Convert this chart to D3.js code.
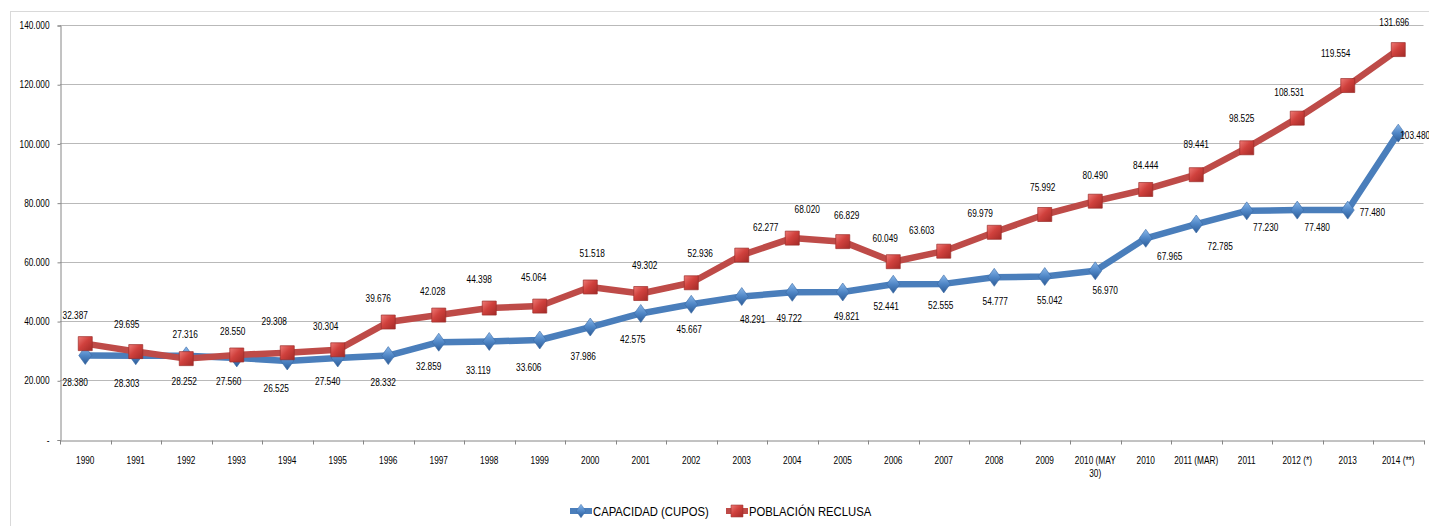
<!DOCTYPE html>
<html>
<head>
<meta charset="utf-8">
<script src="https://cdn.jsdelivr.net/npm/d3@7"></script>
<style>
  html, body { margin: 0; padding: 0; background: #ffffff; }
  svg { display: block; }
  text { font-family: "Liberation Sans Narrow", "Arial Narrow", "Liberation Sans", Arial, sans-serif; fill: #000; }
</style>
</head>
<body>
<svg id="chart" width="1429" height="526"></svg>
<script>
// ---------- data ----------
const categories = ["1990","1991","1992","1993","1994","1995","1996","1997","1998","1999",
  "2000","2001","2002","2003","2004","2005","2006","2007","2008","2009",
  "2010 (MAY 30)","2010","2011 (MAR)","2011","2012 (*)","2013","2014 (**)"];
const capacidad = [28380,28303,28252,27560,26525,27540,28332,32859,33119,33606,
  37986,42575,45667,48291,49722,49821,52441,52555,54777,55042,
  56970,67965,72785,77230,77480,77480,103480];
const poblacion = [32387,29695,27316,28550,29308,30304,39676,42028,44398,45064,
  51518,49302,52936,62277,68020,66829,60049,63603,69979,75992,
  80490,84444,89441,98525,108531,119554,131696];
const yTicks = [0,20000,40000,60000,80000,100000,120000,140000];
const seriesNames = ["CAPACIDAD (CUPOS)", "POBLACIÓN RECLUSA"];

// ---------- label nudges (layout only, px relative to each point) ----------
const capLabelDx = [-10,-9,-2,-8,-11,-10,-5,-10,-11,-11,-7,-8,-2,11,-3,4,-7,-3,1,5,10,24,24,19,20,25,15];
const capLabelDy = [27,28,26,24,28,24,27,24,29,27,29,26,25,23,26,25,22,22,24,24,20,18,22,17,17,2,2];
const popLabelDx = [-10,-9,-1,-4,-13,-12,-10,-6,-10,-6,2,4,9,24,15,4,-8,-22,-14,-2,0,0,0,-5,-8,-12,-4];
const popLabelDy = [-28,-27,-24,-23,-31,-23,-24,-24,-29,-29,-33,-28,-29,-28,-29,-26,-23,-21,-19,-27,-26,-24,-30,-29,-26,-32,-27];

// ---------- layout ----------
const svg = d3.select("#chart");
const L = 60, R = 1423.5, T = 25, B = 439.5;
const NARROW = 0.83;
const fmtThou = v => {
  const s = String(v);
  return s.slice(0, s.length - 3) + "." + s.slice(-3);
};
const placeNarrow = (px, py) => `translate(${px},${py}) scale(${NARROW},1)`;

const x = d3.scaleBand().domain(categories).range([L, R]).paddingInner(0).paddingOuter(0);
const y = d3.scaleLinear().domain([0, 140000]).range([B, T]);
const cx = c => x(c) + x.bandwidth() / 2;

// chart border
svg.append("rect").attr("x", 10.5).attr("y", 11.5).attr("width", 1430).attr("height", 530)
  .attr("fill", "none").attr("stroke", "#d9d9d9").attr("stroke-width", 1);

// defs: gradients
const defs = svg.append("defs");
const gBlue = defs.append("linearGradient").attr("id", "gBlue").attr("x1", 0).attr("y1", 0).attr("x2", 0).attr("y2", 1);
gBlue.append("stop").attr("offset", "0%").attr("stop-color", "#8ab8ea");
gBlue.append("stop").attr("offset", "50%").attr("stop-color", "#4f86c6");
gBlue.append("stop").attr("offset", "100%").attr("stop-color", "#2d5c97");
const gRed = defs.append("linearGradient").attr("id", "gRed").attr("x1", 0).attr("y1", 0).attr("x2", 1).attr("y2", 1);
gRed.append("stop").attr("offset", "0%").attr("stop-color", "#ee7a76");
gRed.append("stop").attr("offset", "45%").attr("stop-color", "#d0413d");
gRed.append("stop").attr("offset", "100%").attr("stop-color", "#a32a27");

// gridlines
svg.append("g").selectAll("line").data(yTicks.filter(d => d > 0)).join("line")
  .attr("x1", L).attr("x2", R)
  .attr("y1", d => Math.round(y(d)) + 0.5).attr("y2", d => Math.round(y(d)) + 0.5)
  .attr("stroke", "#b9b9b9").attr("stroke-width", 1);

// y axis
const yAxis = d3.axisLeft(y).tickValues(yTicks).tickSize(3).tickPadding(6)
  .tickFormat(d => d === 0 ? "- " : fmtThou(d));
const gy = svg.append("g").attr("transform", `translate(${L + 0.5},0.5)`).call(yAxis);
gy.select(".domain").attr("stroke", "#868686");
gy.selectAll(".tick line").attr("stroke", "#868686");
gy.selectAll(".tick text").attr("font-size", 10).attr("fill", "#000")
  .attr("font-family", null)
  .each(function() {
    const t = d3.select(this);
    const tx = +t.attr("x");
    t.attr("x", null).attr("transform", placeNarrow(tx - 2, 0));
  });

// x axis
const xAxis = d3.axisBottom(x).tickSize(0).tickFormat("");
const gx = svg.append("g").attr("transform", `translate(0.5,${Math.round(B) + 0.5})`).call(xAxis);
gx.select(".domain").attr("stroke", "#868686");
const bounds = categories.map(c => x(c)).concat([R]);
gx.append("g").selectAll("line").data(bounds).join("line")
  .attr("x1", d => Math.round(d)).attr("x2", d => Math.round(d))
  .attr("y1", 0).attr("y2", 4).attr("stroke", "#868686");
const xl = svg.append("g");
categories.forEach(c => {
  const lines = c === "2010 (MAY 30)" ? ["2010 (MAY", "30)"] : [c];
  const t = xl.append("text").attr("transform", placeNarrow(cx(c), 464))
    .attr("text-anchor", "middle").attr("font-size", 10);
  lines.forEach((ln, i) => t.append("tspan").attr("x", 0).attr("dy", i === 0 ? 0 : 13).text(ln));
});

// line generator
const line = d3.line().x((d, i) => cx(categories[i])).y(d => y(d));

function diamond(sel) {
  sel.attr("d", "M0,-9 L6.5,0 L0,9 L-6.5,0 Z").attr("fill", "url(#gBlue)")
    .attr("stroke", "#3a6aa5").attr("stroke-width", 0.6);
}
function square(sel) {
  sel.attr("d", "M-7,-7 H7 V7 H-7 Z").attr("fill", "url(#gRed)")
    .attr("stroke", "#9b2c29").attr("stroke-width", 0.7);
}

// blue series
svg.append("path").datum(capacidad).attr("d", line).attr("fill", "none")
  .attr("stroke", "#4a7ebb").attr("stroke-width", 6.5).attr("stroke-linejoin", "round");
svg.append("g").selectAll("path").data(capacidad).join("path")
  .attr("transform", (d, i) => `translate(${cx(categories[i])},${y(d)})`).call(diamond);

// red series
svg.append("path").datum(poblacion).attr("d", line).attr("fill", "none")
  .attr("stroke", "#be4b48").attr("stroke-width", 6.5).attr("stroke-linejoin", "round");
svg.append("g").selectAll("path").data(poblacion).join("path")
  .attr("transform", (d, i) => `translate(${cx(categories[i])},${y(d)})`).call(square);

// data labels
svg.append("g").selectAll("text").data(capacidad).join("text")
  .attr("transform", (d, i) => {
    let px = cx(categories[i]) + capLabelDx[i];
    if (i >= 25) px -= 13;
    return placeNarrow(px, y(d) + capLabelDy[i]);
  })
  .attr("dy", "0.35em")
  .attr("text-anchor", (d, i) => i >= 25 ? "start" : "middle")
  .attr("font-size", 10)
  .text(d => fmtThou(d));
svg.append("g").selectAll("text").data(poblacion).join("text")
  .attr("transform", (d, i) => placeNarrow(cx(categories[i]) + popLabelDx[i], y(d) + popLabelDy[i]))
  .attr("dy", "0.35em")
  .attr("text-anchor", "middle")
  .attr("font-size", 10)
  .text(d => fmtThou(d));

// legend
const lg = svg.append("g");
const ly = 511;
const items = [
  { name: seriesNames[0], color: "#4a7ebb", x: 570, marker: diamond, sc: 0.75 },
  { name: seriesNames[1], color: "#be4b48", x: 726, marker: square, sc: 0.85 }
];
items.forEach(it => {
  lg.append("line").attr("x1", it.x).attr("x2", it.x + 22).attr("y1", ly).attr("y2", ly)
    .attr("stroke", it.color).attr("stroke-width", 6);
  lg.append("path").attr("transform", `translate(${it.x + 11},${ly}) scale(${it.sc})`).call(it.marker);
  lg.append("text").attr("transform", placeNarrow(it.x + 23, ly)).attr("dy", "0.36em")
    .attr("font-size", 13.6).text(it.name);
});
</script>
</body>
</html>
